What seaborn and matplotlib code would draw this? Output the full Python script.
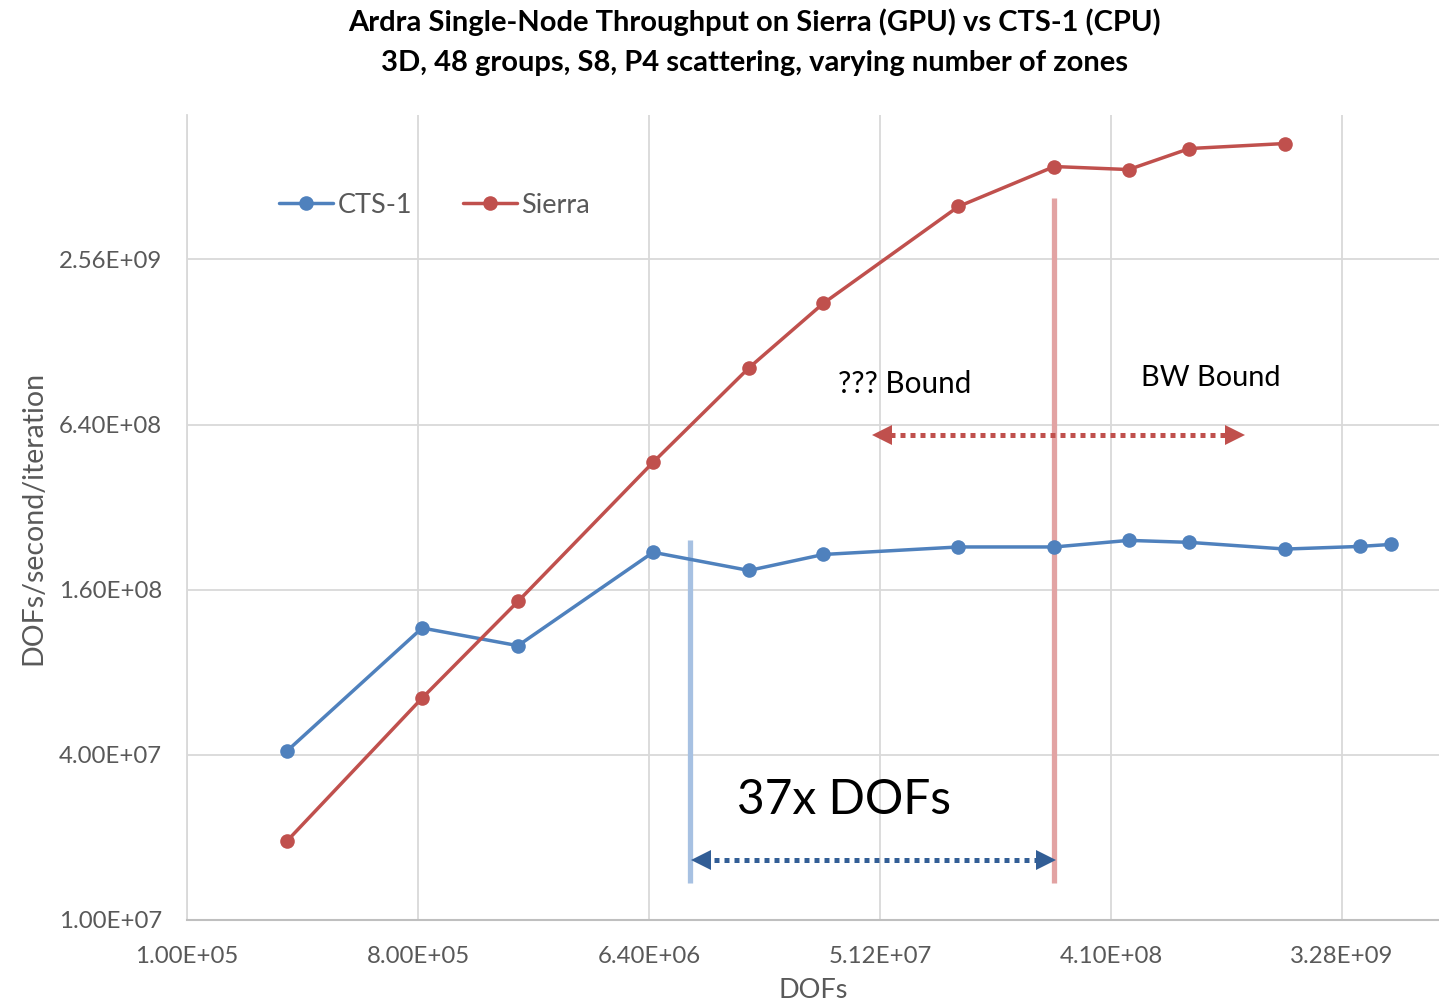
import numpy as np
import pandas as pd
import matplotlib
matplotlib.use("Agg")
import matplotlib.pyplot as plt
import seaborn as sns
from matplotlib.ticker import FixedLocator, FixedFormatter, NullLocator

# ---- data ----
cts_dofs = [245760, 829440, 1966080, 6635520, 15728640, 30720000, 103680000,
            245760000, 480000000, 829440000, 1966080000, 3840000000, 5111040000]
cts_rate = [4.13e7, 1.16e8, 1.00e8, 2.19e8, 1.88e8, 2.15e8, 2.29e8,
            2.29e8, 2.42e8, 2.38e8, 2.25e8, 2.30e8, 2.34e8]
sierra_dofs = [245760, 829440, 1966080, 6635520, 15728640, 30720000, 103680000,
               245760000, 480000000, 829440000, 1966080000]
sierra_rate = [1.94e7, 6.44e7, 1.45e8, 4.66e8, 1.03e9, 1.77e9, 3.99e9,
               5.58e9, 5.44e9, 6.49e9, 6.77e9]
series_names = ["CTS-1", "Sierra"]
x_ticks = [1.0e5, 8.0e5, 6.4e6, 5.12e7, 4.096e8, 3.2768e9]
y_ticks = [1.0e7, 4.0e7, 1.6e8, 6.4e8, 2.56e9]
x_tick_labels = ["1.00E+05", "8.00E+05", "6.40E+06", "5.12E+07", "4.10E+08", "3.28E+09"]
y_tick_labels = ["1.00E+07", "4.00E+07", "1.60E+08", "6.40E+08", "2.56E+09"]
title_text = "Ardra Single-Node Throughput on Sierra (GPU) vs CTS-1 (CPU)\n3D, 48 groups, S8, P4 scattering, varying number of zones"

df = pd.DataFrame({
    "DOFs": cts_dofs + sierra_dofs,
    "rate": cts_rate + sierra_rate,
    "series": [series_names[0]] * len(cts_dofs) + [series_names[1]] * len(sierra_dofs),
})

sns.set_theme(style="white")
plt.rcParams["font.family"] = ["Lato", "DejaVu Sans"]

fig = plt.figure(figsize=(14.39, 10.07), dpi=100)
ax = fig.add_axes([0.130, 0.0864, 0.870, 0.7994])

blue = "#4F81BD"
red = "#C0504D"
sns.lineplot(data=df, x="DOFs", y="rate", hue="series", palette=[blue, red],
             marker="o", markersize=10.5, markeredgewidth=0, linewidth=2.5,
             sort=False, ax=ax, legend=True)

ax.set_xscale("log")
ax.set_yscale("log")
ax.set_xlim(1.0e5, 7.84e9)
ax.set_ylim(1.0e7, 8.6e9)
ax.xaxis.set_major_locator(FixedLocator(x_ticks))
ax.xaxis.set_major_formatter(FixedFormatter(x_tick_labels))
ax.xaxis.set_minor_locator(NullLocator())
ax.yaxis.set_major_locator(FixedLocator(y_ticks))
ax.yaxis.set_major_formatter(FixedFormatter(y_tick_labels))
ax.yaxis.set_minor_locator(NullLocator())
ax.grid(True, which="major", color="#D9D9D9", linewidth=1.3)
ax.set_axisbelow(True)
ax.tick_params(axis="both", length=0, labelsize=17.3, labelcolor="#595959")
ax.tick_params(axis="x", pad=19)
ax.tick_params(axis="y", pad=18)
for s in ["top", "right"]:
    ax.spines[s].set_visible(False)
ax.spines["left"].set_color("#D9D9D9")
ax.spines["left"].set_linewidth(1.3)
ax.spines["bottom"].set_color("#BFBFBF")
ax.spines["bottom"].set_linewidth(1.5)

ax.set_xlabel("DOFs", fontsize=19.5, color="#595959", labelpad=8)
ax.set_ylabel("DOFs/second/iteration", fontsize=20.5, color="#595959", labelpad=9)

leg = ax.legend(loc="center left", bbox_to_anchor=(0.054, 0.888), ncol=2,
                frameon=False, fontsize=19.5, handlelength=2.0, handletextpad=0.15,
                columnspacing=1.9, labelcolor="#595959")

fig.text(0.524, 0.958, title_text, ha="center", va="center", fontsize=21,
         fontweight="bold", color="#000000", linespacing=1.65)

# ---- annotations ----
blue_vline_x = 9.26e6
red_vline_x = 2.4576e8
ax.plot([blue_vline_x, blue_vline_x], [1.36e7, 2.42e8], color="#A7C1E2",
        linewidth=3.8, solid_capstyle="butt", zorder=1)
ax.plot([red_vline_x, red_vline_x], [1.36e7, 4.3e9], color="#E2A3A3",
        linewidth=3.8, solid_capstyle="butt", zorder=1)

arr_blue_y = 1.65e7
ax.plot([1.05e7, 2.15e8], [arr_blue_y, arr_blue_y], color="#325E96",
        linewidth=3.6, dashes=(1, 1), dash_capstyle="butt", zorder=4)
ax.plot([1.0e7 * 1.02], [arr_blue_y], marker="<", color="#325E96", markersize=14, markeredgewidth=0, zorder=4)
ax.plot([2.28e8], [arr_blue_y], marker=">", color="#325E96", markersize=14, markeredgewidth=0, zorder=4)

arr_red_y = 5.85e8
ax.plot([5.6e7, 1.15e9], [arr_red_y, arr_red_y], color="#C0504D",
        linewidth=3.6, dashes=(1, 1), dash_capstyle="butt", zorder=4)
ax.plot([5.2e7], [arr_red_y], marker="<", color="#C0504D", markersize=14, markeredgewidth=0, zorder=4)
ax.plot([1.25e9], [arr_red_y], marker=">", color="#C0504D", markersize=14, markeredgewidth=0, zorder=4)

ax.text(1.41e7, 2.74e7, "37x DOFs", fontsize=34.5, color="black", ha="left", va="center")
ax.text(3.51e7, 8.97e8, "??? Bound", fontsize=21.3, color="black", ha="left", va="center")
ax.text(5.37e8, 9.43e8, "BW Bound", fontsize=20.8, color="black", ha="left", va="center")

fig.savefig("out.png", dpi=100)
